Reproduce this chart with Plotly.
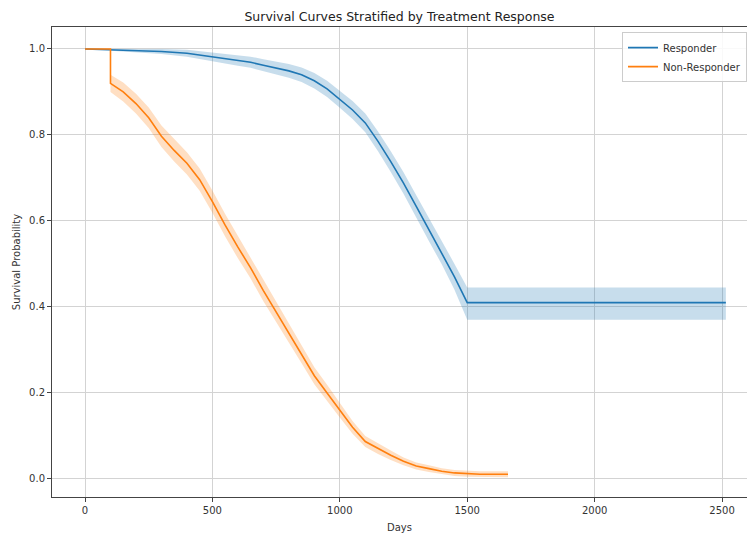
import plotly.graph_objects as go

# ---- data ----
resp_days = [0, 100, 200, 300, 400, 450, 500, 550, 600, 650, 700, 750, 800, 850, 900, 950,
             1000, 1050, 1100, 1150, 1200, 1250, 1300, 1350, 1400, 1450, 1500, 2515]
resp_surv = [1.0, 0.998, 0.996, 0.994, 0.99, 0.986, 0.982, 0.977, 0.973, 0.969, 0.962, 0.956,
             0.949, 0.94, 0.926, 0.907, 0.883, 0.858, 0.828, 0.785, 0.738, 0.688, 0.634, 0.58,
             0.527, 0.47, 0.41, 0.41]
resp_lower = [1.0, 0.996, 0.992, 0.988, 0.982, 0.977, 0.972, 0.966, 0.961, 0.956, 0.948, 0.941,
              0.933, 0.923, 0.908, 0.888, 0.863, 0.837, 0.806, 0.762, 0.714, 0.663, 0.608, 0.553,
              0.499, 0.44, 0.37, 0.37]
resp_upper = [1.0, 1.0, 1.0, 1.0, 0.998, 0.995, 0.992, 0.988, 0.985, 0.982, 0.976, 0.971,
              0.965, 0.957, 0.944, 0.926, 0.903, 0.879, 0.85, 0.808, 0.762, 0.713, 0.66, 0.607,
              0.555, 0.50, 0.445, 0.445]

non_days = [0, 100, 100, 150, 200, 250, 300, 350, 400, 450, 500, 550, 600, 650, 700, 750, 800,
            850, 900, 950, 1000, 1050, 1100, 1150, 1200, 1250, 1300, 1350, 1400, 1450, 1500,
            1550, 1600, 1660]
non_surv = [1.0, 1.0, 0.92, 0.90, 0.873, 0.84, 0.797, 0.764, 0.734, 0.696, 0.645, 0.59, 0.539,
            0.491, 0.438, 0.389, 0.341, 0.291, 0.24, 0.20, 0.16, 0.12, 0.087, 0.07, 0.055, 0.041,
            0.03, 0.024, 0.018, 0.014, 0.012, 0.011, 0.011, 0.011]
non_lower = [1.0, 1.0, 0.90, 0.878, 0.85, 0.816, 0.772, 0.738, 0.708, 0.67, 0.619, 0.564, 0.513,
             0.466, 0.413, 0.365, 0.318, 0.269, 0.22, 0.181, 0.143, 0.105, 0.074, 0.058, 0.044,
             0.032, 0.022, 0.016, 0.011, 0.007, 0.005, 0.004, 0.004, 0.004]
non_upper = [1.0, 1.0, 0.94, 0.922, 0.896, 0.864, 0.822, 0.79, 0.76, 0.722, 0.671, 0.616, 0.565,
             0.516, 0.463, 0.413, 0.364, 0.313, 0.26, 0.219, 0.177, 0.135, 0.10, 0.082, 0.066,
             0.05, 0.038, 0.032, 0.025, 0.021, 0.019, 0.018, 0.018, 0.018]

x_ticks = [0, 500, 1000, 1500, 2000, 2500]
y_ticks = [0.0, 0.2, 0.4, 0.6, 0.8, 1.0]

BLUE = "#1f77b4"
ORANGE = "#ff7f0e"
FONT = "DejaVu Sans"

fig = go.Figure()


def add_band(days, lower, upper, color):
    xs = list(days) + list(days)[::-1]
    ys = list(upper) + list(lower)[::-1]
    fig.add_trace(go.Scatter(x=xs, y=ys, fill="toself", fillcolor=color,
                             line=dict(width=0), mode="lines", showlegend=False,
                             hoverinfo="skip"))


add_band(resp_days[1:], resp_lower[1:], resp_upper[1:], "rgba(31,119,180,0.25)")
fig.add_trace(go.Scatter(x=resp_days, y=resp_surv, mode="lines", name="Responder",
                         line=dict(color=BLUE, width=1.6)))
add_band(non_days[2:], non_lower[2:], non_upper[2:], "rgba(255,127,14,0.25)")
fig.add_trace(go.Scatter(x=non_days, y=non_surv, mode="lines", name="Non-Responder",
                         line=dict(color=ORANGE, width=1.6)))

fig.update_layout(
    width=748, height=533,
    margin=dict(l=52, r=1, t=27, b=36),
    paper_bgcolor="white", plot_bgcolor="white",
    font=dict(family=FONT, size=10, color="#333333"),
    title=dict(text="Survival Curves Stratified by Treatment Response",
               x=0.5, xref="paper", y=1 - 17 / 533, yref="container",
               xanchor="center", yanchor="middle",
               font=dict(family=FONT, size=12.5, color="#222222")),
    legend=dict(x=1.0, y=0.989, xanchor="right", yanchor="top",
                bgcolor="rgba(255,255,255,0.85)", bordercolor="#cccccc", borderwidth=1,
                font=dict(family=FONT, size=10, color="#333333"),
                tracegroupgap=0, itemwidth=30),
    showlegend=True,
)

fig.update_xaxes(
    range=[-129.5, 2598], tickvals=x_ticks, ticktext=[str(v) for v in x_ticks],
    showgrid=True, gridcolor="#d3d3d3", gridwidth=1, zeroline=False,
    showline=True, linecolor="#444444", linewidth=1, mirror=True,
    ticks="outside", ticklen=4, tickcolor="#444444",
    title=dict(text="Days", standoff=8, font=dict(family=FONT, size=10, color="#333333")),
)
fig.update_yaxes(
    range=[-0.042, 1.051], tickvals=y_ticks, ticktext=[f"{v:.1f}" for v in y_ticks],
    showgrid=True, gridcolor="#d3d3d3", gridwidth=1, zeroline=False,
    showline=True, linecolor="#444444", linewidth=1, mirror=False,
    ticks="outside", ticklen=4, tickcolor="#444444",
    title=dict(text="Survival Probability", standoff=6,
               font=dict(family=FONT, size=10, color="#333333")),
)

fig.write_html("out.html")
